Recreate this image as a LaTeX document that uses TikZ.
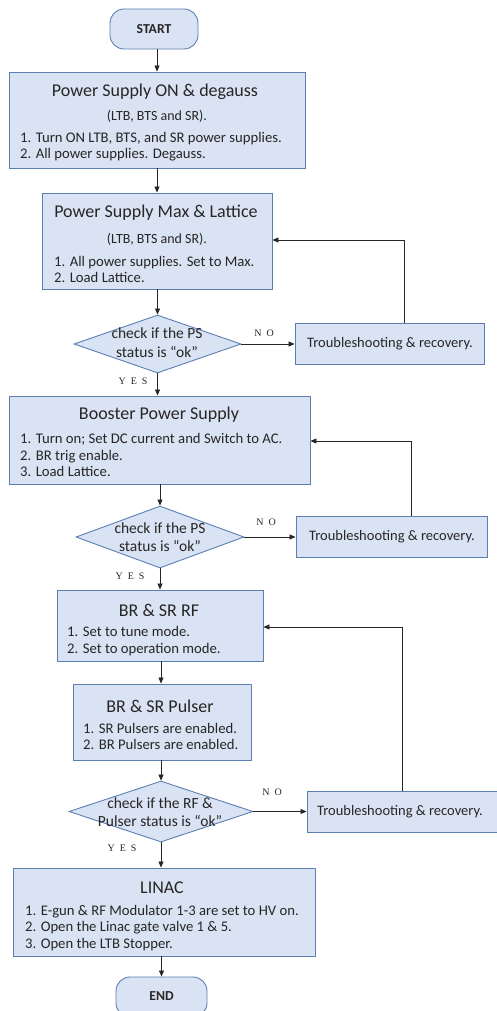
\documentclass[tikz,border=0pt]{standalone}
\usepackage{fontspec}
\setmainfont{Carlito}
\newfontfamily\lblfont{Liberation Serif}
\usetikzlibrary{shapes.geometric,arrows.meta}
\definecolor{boxfill}{HTML}{DAE3F3}
\definecolor{boxline}{HTML}{5B7FB3}
\definecolor{txt}{HTML}{262626}
\tikzset{
  pbox/.style={draw=boxline,fill=boxfill,line width=0.9pt,inner sep=0pt},
  term/.style={pbox,rounded corners=14pt},
  dec/.style={pbox,diamond,inner sep=0pt},
  ttl/.style={font=\fontsize{18}{20}\selectfont,text=txt,inner sep=0pt},
  sub/.style={font=\fontsize{14}{16}\selectfont,text=txt,inner sep=0pt},
  trb/.style={font=\fontsize{14.5}{16}\selectfont,text=txt,inner sep=0pt},
  lst/.style={font=\fontsize{14.7}{16.3}\selectfont,text=txt,align=left,anchor=west,inner sep=0pt},
  dtxt/.style={font=\fontsize{15.5}{18.5}\selectfont,text=txt,align=center,inner sep=0pt},
  yn/.style={font=\lblfont\fontsize{10}{11}\selectfont,text=txt,inner sep=0pt},
  trm/.style={font=\bfseries\fontsize{13.7}{15}\selectfont,text=txt,inner sep=0pt},
  arr/.style={-{Triangle[length=6pt,width=5pt]},line width=0.8pt,black!85},
}
\newcommand{\lsp}{\hspace{5pt}}
\begin{document}
\begin{tikzpicture}[x=1pt,y=-1pt]
\useasboundingbox (0,0) rectangle (496,1011);
% start
\node[term,minimum width=88pt,minimum height=40pt] (start) at (154,29) {};
\node[trm] at (154,29) {START};
% box 1
\node[pbox,minimum width=296pt,minimum height=96pt] (b1) at (157,120) {};
\node[ttl] at (155,92) {Power Supply ON \& degauss};
\node[sub] at (157,116) {(LTB, BTS and SR).};
\node[lst] at (20,147) {1. Turn ON LTB, BTS, and SR power supplies.\\2. All power supplies. Degauss.};
% box 2
\node[pbox,minimum width=230pt,minimum height=96pt] (b2) at (157,241) {};
\node[ttl] at (156,213) {Power Supply Max \& Lattice};
\node[sub] at (157,239) {(LTB, BTS and SR).};
\node[lst] at (54,269.5) {1. All power supplies. Set to Max.\\2. Load Lattice.};
% decision 1
\node[dec,minimum width=167pt,minimum height=58pt] (d1) at (157.5,344) {};
\node[dtxt] at (157,342.5) {check if the PS\\status is “ok”};
\node[pbox,minimum width=189pt,minimum height=41pt] (t1) at (389.5,343.5) {};
\node[trb] at (390,344) {Troubleshooting \& recovery.};
% box 3
\node[pbox,minimum width=301pt,minimum height=88pt] (b3) at (159.5,440) {};
\node[ttl] at (159,415) {Booster Power Supply};
\node[lst] at (20,455) {1. Turn on; Set DC current and Switch to AC.\\2. BR trig enable.\\3. Load Lattice.};
% decision 2
\node[dec,minimum width=168pt,minimum height=62pt] (d2) at (160,537) {};
\node[dtxt] at (160,537) {check if the PS\\status is “ok”};
\node[pbox,minimum width=191pt,minimum height=41pt] (t2) at (391.5,536.5) {};
\node[trb] at (392,537) {Troubleshooting \& recovery.};
% box 4
\node[pbox,minimum width=206pt,minimum height=71pt] (b4) at (160,625.5) {};
\node[ttl] at (159,610) {BR \& SR RF};
\node[lst] at (67,641) {1. Set to tune mode.\\2. Set to operation mode.};
% box 5
\node[pbox,minimum width=178pt,minimum height=76pt] (b5) at (162,722) {};
\node[ttl] at (160,706) {BR \& SR Pulser};
\node[lst] at (83,736.5) {1. SR Pulsers are enabled.\\2. BR Pulsers are enabled.};
% decision 3
\node[dec,minimum width=184pt,minimum height=61pt] (d3) at (161,811.5) {};
\node[dtxt] at (160,812) {check if the RF \&\\Pulser status is “ok”};
\node[pbox,minimum width=190pt,minimum height=41pt] (t3) at (402,811.5) {};
\node[trb] at (400,812) {Troubleshooting \& recovery.};
% box 6
\node[pbox,minimum width=302pt,minimum height=88pt] (b6) at (164,912) {};
\node[ttl] at (162,888) {LINAC};
\node[lst] at (25,928) {1. E-gun \& RF Modulator 1-3 are set to HV on.\\2. Open the Linac gate valve 1 \& 5.\\3. Open the LTB Stopper.};
% end
\node[term,minimum width=91pt,minimum height=40pt] (end) at (161.5,997) {};
\node[trm] at (161.5,996) {END};
% YES / NO labels
\node[yn] at (264,333) {N\lsp O};
\node[yn] at (266,522) {N\lsp O};
\node[yn] at (272,792) {N\lsp O};
\node[yn] at (133,381) {Y\lsp E\lsp S};
\node[yn] at (130,576) {Y\lsp E\lsp S};
\node[yn] at (122,848) {Y\lsp E\lsp S};
% coordinates for feedback loops
\coordinate (f1) at (404,240);
\coordinate (f2) at (411,441);
\coordinate (f3) at (402,627);
% connectors
\draw[arr] (start.south -| 157,0) -- (b1.north -| 157,0);
\draw[arr] (b1.south -| 157,0) -- (b2.north -| 157,0);
\draw[arr] (b2.south -| d1.north) -- (d1.north);
\draw[arr] (d1.south) -- (b3.north -| d1.south);
\draw[arr] (b3.south -| d2.north) -- (d2.north);
\draw[arr] (d2.south) -- (b4.north -| d2.south);
\draw[arr] (b4.south -| 161,0) -- (b5.north -| 161,0);
\draw[arr] (b5.south -| d3.north) -- (d3.north);
\draw[arr] (d3.south) -- (b6.north -| d3.south);
\draw[arr] (b6.south -| 161.5,0) -- (end.north);
\draw[arr] (d1.east) -- (d1.east -| t1.west);
\draw[arr] (d2.east) -- (d2.east -| t2.west);
\draw[arr] (d3.east) -- (d3.east -| t3.west);
\draw[arr] (t1.north -| f1) |- (b2.east |- f1);
\draw[arr] (t2.north -| f2) |- (b3.east |- f2);
\draw[arr] (t3.north -| f3) |- (b4.east |- f3);
\end{tikzpicture}
\end{document}
